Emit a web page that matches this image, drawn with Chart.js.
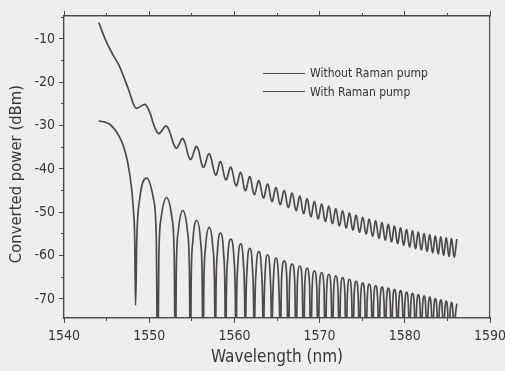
<!DOCTYPE html>
<html>
<head>
<meta charset="utf-8">
<script src="https://cdn.jsdelivr.net/npm/chart.js@4.4.1/dist/chart.umd.min.js"></script>
<style>
  html, body { margin: 0; padding: 0; background: #eeeef0; }
  #wrap { position: relative; width: 505px; height: 371px; }
  canvas { display: block; }
  .key { position: absolute; left: 263px; height: 16px; line-height: 16px; display: flex; align-items: center;
         font: 12px 'DejaVu Sans Condensed', 'Liberation Sans', sans-serif; color: #333; white-space: nowrap; }
  .key i { display: inline-block; width: 42px; height: 0; border-top: 1.5px solid #4f4b4f; margin-right: 5px; }
</style>
</head>
<body>
<div id="wrap">
  <canvas id="chart" width="505" height="371"></canvas>
  <div id="legend"></div>
</div>
<script>
// axis ranges (nm, dBm)
const xRange = [1540, 1590];
const yRange = [-74.4, -4.7];
const seriesNames = ["Without Raman pump", "With Raman pump"];

// converted power without the pump: deep fringe nulls, one lobe per line
const lowerWl = [
  1544.08, 1544.80, 1545.45, 1546.40, 1547.00, 1547.50, 1547.90, 1548.15, 1548.30, 1548.40,
  1548.55, 1548.90, 1549.69, 1550.48, 1550.83, 1551.00,
  1551.13, 1551.41, 1552.04, 1552.66, 1552.94, 1553.07,
  1553.18, 1553.42, 1553.95, 1554.48, 1554.72, 1554.83,
  1554.93, 1555.13, 1555.58, 1556.02, 1556.22, 1556.32,
  1556.41, 1556.61, 1557.04, 1557.47, 1557.67, 1557.76,
  1557.84, 1558.00, 1558.37, 1558.73, 1558.89, 1558.97,
  1559.05, 1559.21, 1559.58, 1559.95, 1560.11, 1560.19,
  1560.26, 1560.41, 1560.74, 1561.06, 1561.21, 1561.28,
  1561.35, 1561.49, 1561.81, 1562.12, 1562.26, 1562.33,
  1562.40, 1562.54, 1562.87, 1563.19, 1563.33, 1563.40,
  1563.47, 1563.60, 1563.90, 1564.20, 1564.33, 1564.40,
  1564.46, 1564.59, 1564.89, 1565.18, 1565.31, 1565.37,
  1565.54, 1565.85, 1566.15, 1566.32,
  1566.48, 1566.78, 1567.08, 1567.24,
  1567.39, 1567.68, 1567.96, 1568.11,
  1568.26, 1568.54, 1568.82, 1568.97,
  1569.12, 1569.40, 1569.67, 1569.82,
  1569.97, 1570.25, 1570.52, 1570.67,
  1570.82, 1571.09, 1571.35, 1571.50,
  1571.64, 1571.91, 1572.17, 1572.31,
  1572.45, 1572.71, 1572.97, 1573.11,
  1573.25, 1573.51, 1573.76, 1573.90,
  1574.04, 1574.29, 1574.54, 1574.68,
  1574.81, 1575.07, 1575.31, 1575.45,
  1575.58, 1575.83, 1576.08, 1576.21,
  1576.34, 1576.59, 1576.83, 1576.96,
  1577.09, 1577.33, 1577.57, 1577.70,
  1577.83, 1578.07, 1578.30, 1578.43,
  1578.56, 1578.79, 1579.02, 1579.15,
  1579.27, 1579.51, 1579.74, 1579.86,
  1579.98, 1580.21, 1580.44, 1580.56,
  1580.68, 1580.91, 1581.13, 1581.25,
  1581.37, 1581.59, 1581.81, 1581.93,
  1582.05, 1582.27, 1582.48, 1582.60,
  1582.72, 1582.93, 1583.14, 1583.26,
  1583.37, 1583.59, 1583.80, 1583.91,
  1584.02, 1584.23, 1584.44, 1584.55,
  1584.66, 1584.87, 1585.07, 1585.18,
  1585.29, 1585.49, 1585.69, 1585.80,
  1585.91, 1586.10
];
const lowerDb = [
  -28.9, -29.2, -29.8, -32.2, -34.9, -38.7, -44.0, -49.5, -56.0, -71.5,
  -55.9, -46.7, -42.1, -46.7, -55.9, -90,
  -60.4, -51.2, -46.6, -51.2, -60.4, -90,
  -63.4, -54.2, -49.6, -54.2, -63.4, -90,
  -65.7, -56.5, -51.9, -56.5, -65.7, -90,
  -67.3, -58.1, -53.5, -58.1, -67.3, -90,
  -68.6, -59.4, -54.8, -59.4, -68.6, -90,
  -70.0, -60.8, -56.2, -60.8, -70.0, -90,
  -71.1, -61.9, -57.3, -61.9, -71.1, -90,
  -72.1, -62.9, -58.3, -62.9, -72.1, -90,
  -72.9, -63.7, -59.1, -63.7, -72.9, -90,
  -73.6, -64.4, -59.8, -64.4, -73.6, -90,
  -74.4, -65.2, -60.6, -65.2, -74.4, -84,
  -65.2, -61.2, -65.2, -84,
  -65.9, -61.9, -65.9, -84,
  -66.4, -62.4, -66.4, -84,
  -66.9, -62.9, -66.9, -84,
  -67.5, -63.5, -67.5, -84,
  -67.9, -63.9, -67.9, -84,
  -68.3, -64.3, -68.3, -84,
  -68.7, -64.7, -68.7, -84,
  -69.1, -65.1, -69.1, -84,
  -69.5, -65.5, -69.5, -84,
  -69.9, -65.9, -69.9, -84,
  -70.3, -66.3, -70.3, -84,
  -70.6, -66.6, -70.6, -84,
  -70.9, -66.9, -70.9, -84,
  -71.2, -67.2, -71.2, -84,
  -71.5, -67.5, -71.5, -84,
  -71.8, -67.8, -71.8, -84,
  -72.1, -68.1, -72.1, -84,
  -72.4, -68.4, -72.4, -84,
  -72.7, -68.7, -72.7, -84,
  -73.0, -69.0, -73.0, -84,
  -73.3, -69.3, -73.3, -84,
  -73.6, -69.6, -73.6, -84,
  -73.9, -69.9, -73.9, -84,
  -74.2, -70.2, -74.2, -84,
  -74.5, -70.5, -74.5, -84,
  -74.8, -70.8, -74.8, -84,
  -75.1, -71.1
];

// converted power with the pump: trough / crest pairs
const upperWl = [
  1544.08, 1544.87, 1545.65, 1546.43, 1547.00, 1547.60, 1548.15, 1548.50, 1549.60,
  1551.05, 1552.04, 1553.15, 1553.95, 1554.83, 1555.58, 1556.35, 1557.04,
  1557.80, 1558.37, 1559.00, 1559.58, 1560.19, 1560.74, 1561.28, 1561.81,
  1562.33, 1562.87, 1563.40, 1563.90, 1564.40, 1564.89, 1565.37, 1565.85,
  1566.32, 1566.78, 1567.24, 1567.68, 1568.11, 1568.54, 1568.97, 1569.40,
  1569.82, 1570.25, 1570.67, 1571.09, 1571.50, 1571.91, 1572.31, 1572.71,
  1573.11, 1573.51, 1573.90, 1574.29, 1574.68, 1575.07, 1575.45, 1575.83,
  1576.21, 1576.59, 1576.96, 1577.33, 1577.70, 1578.07, 1578.43, 1578.79,
  1579.15, 1579.51, 1579.86, 1580.21, 1580.56, 1580.91, 1581.25, 1581.59,
  1581.93, 1582.27, 1582.60, 1582.93, 1583.26, 1583.59, 1583.91, 1584.23,
  1584.55, 1584.87, 1585.18, 1585.49, 1585.80, 1586.10
];
const upperDb = [
  -6.2, -10.2, -13.3, -16.0, -18.7, -21.8, -25.0, -26.0, -25.2,
  -31.8, -30.1, -35.2, -33.0, -37.8, -34.8, -39.6, -36.5,
  -41.4, -38.3, -42.5, -39.6, -43.9, -40.8, -45.0, -41.8,
  -45.9, -42.7, -46.7, -43.5, -47.5, -44.3, -48.2, -45.0,
  -48.9, -45.6, -49.6, -46.3, -50.3, -46.9, -51.0, -47.5,
  -51.5, -48.1, -52.1, -48.6, -52.6, -49.2, -53.1, -49.7,
  -53.6, -50.2, -54.1, -50.7, -54.6, -51.2, -55.0, -51.6,
  -55.5, -52.0, -56.0, -52.4, -56.4, -52.8, -56.8, -53.2,
  -57.2, -53.6, -57.6, -54.0, -58.0, -54.3, -58.4, -54.6,
  -58.7, -54.9, -59.0, -55.2, -59.3, -55.5, -59.6, -55.7,
  -59.9, -55.9, -60.2, -56.1, -60.4, -56.2
];

const FONT = "'DejaVu Sans Condensed', 'Liberation Sans', sans-serif";
const INK = "#363636";
const AXIS = "#4a4a4a";
const TRACE = "#4d494d";

const toPoints = (xs, ys) => xs.map((x, i) => ({ x, y: ys[i] }));

function trace(label, xs, ys, smooth) {
  return {
    label,
    data: toPoints(xs, ys),
    borderColor: TRACE,
    borderWidth: 1.7,
    borderJoinStyle: "round",
    pointRadius: 0,
    cubicInterpolationMode: smooth ? "default" : "monotone",
    tension: smooth ? 0.4 : 0,
    clip: 0
  };
}

// frame axes: no labels, only the border and tick marks
function frameAxis(position, step, tickLength, size) {
  const horizontal = position === "top" || position === "bottom";
  return {
    type: "linear",
    position,
    min: horizontal ? xRange[0] : yRange[0],
    max: horizontal ? xRange[1] : yRange[1],
    ticks: { display: false, stepSize: step, includeBounds: false },
    grid: { drawOnChartArea: false, drawTicks: tickLength > 0, tickLength, tickColor: AXIS, tickWidth: 1 },
    border: { color: AXIS, width: 1.2 },
    afterFit(s) {
      if (horizontal) s.height = size; else s.width = size;
      s.paddingLeft = s.paddingRight = s.paddingTop = s.paddingBottom = 0;
    }
  };
}

const xMain = {
  type: "linear",
  position: "bottom",
  weight: 1,
  min: xRange[0],
  max: xRange[1],
  ticks: { stepSize: 10, padding: 5, color: INK, font: { family: FONT, size: 14 }, callback: v => String(v) },
  grid: { drawOnChartArea: false, tickLength: 5, tickColor: AXIS, tickWidth: 1 },
  border: { color: AXIS, width: 1.2 },
  title: { display: true, text: "Wavelength (nm)", color: INK, font: { family: FONT, size: 17 }, padding: { top: 0, bottom: 3 } },
  afterFit(s) { s.height = 53; s.paddingLeft = s.paddingRight = 0; }
};

// trailing spaces nudge the rotated title a little below the axis middle
const yMain = {
  type: "linear",
  position: "left",
  weight: 1,
  min: yRange[0],
  max: yRange[1],
  ticks: { stepSize: 10, includeBounds: false, padding: 4, color: INK, font: { family: FONT, size: 14 }, callback: v => String(v) },
  grid: { drawOnChartArea: false, tickLength: 5, tickColor: AXIS, tickWidth: 1 },
  border: { color: AXIS, width: 1.2 },
  title: { display: true, text: "Converted power (dBm)   ", color: INK, font: { family: FONT, size: 16.5 }, padding: { top: 7, bottom: 0 } },
  afterFit(s) { s.width = 64; s.paddingTop = s.paddingBottom = 0; }
};

new Chart(document.getElementById("chart"), {
  type: "line",
  data: {
    datasets: [
      trace(seriesNames[0], lowerWl, lowerDb, false),
      trace(seriesNames[1], upperWl, upperDb, true)
    ]
  },
  options: {
    responsive: false,
    animation: false,
    devicePixelRatio: 1,
    layout: { padding: { top: 16, right: 15, left: 0, bottom: 0 } },
    plugins: { legend: { display: false }, tooltip: { enabled: false } },
    scales: {
      x: xMain,
      xMinor: { ...frameAxis("bottom", 5, 3, 0), weight: 0 },
      y: yMain,
      yMinor: { ...frameAxis("left", 5, 3, 0), weight: 0 },
      xTop: { ...frameAxis("top", 10, 5, 0), weight: 1 },
      xTopMinor: { ...frameAxis("top", 5, 3, 0), weight: 0 },
      yRight: frameAxis("right", 10, 0, 0)
    }
  }
});

// legend entries sit inside the plot, upper right
const legend = document.getElementById("legend");
seriesNames.forEach((name, i) => {
  const row = document.createElement("div");
  row.className = "key";
  row.style.top = (65 + i * 18.5) + "px";
  row.innerHTML = "<i></i>";
  row.appendChild(document.createTextNode(name));
  legend.appendChild(row);
});
</script>
</body>
</html>
